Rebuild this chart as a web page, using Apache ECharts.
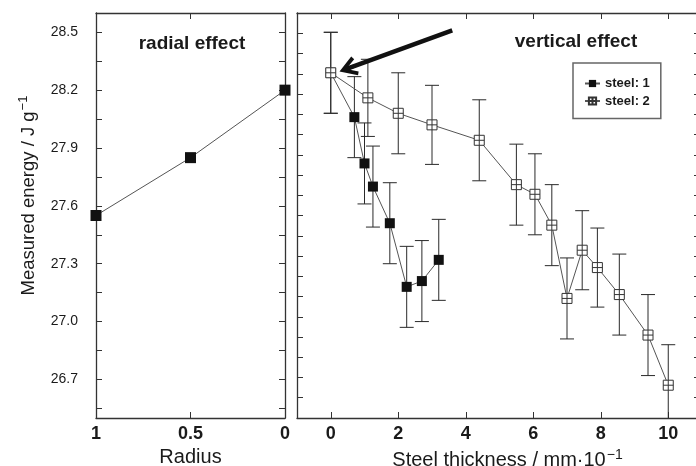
<!DOCTYPE html>
<html><head><meta charset="utf-8">
<script src="https://cdn.jsdelivr.net/npm/echarts@6/dist/echarts.min.js"></script>
<style>html,body{margin:0;padding:0;background:#fff}#c{width:696px;height:466px}</style>
</head><body><div id="c"></div>
<script>
// ---- data ----
const radiusX = [1, 0.5, 0];
const radialEnergy = [27.55, 27.85, 28.20];

const steel1X = [0, 0.7, 1.0, 1.25, 1.75, 2.25, 2.7, 3.2];
const steel1Y = [28.29, 28.06, 27.82, 27.70, 27.51, 27.18, 27.21, 27.32];
const steel1Err = [0.21, 0.21, 0.21, 0.21, 0.21, 0.21, 0.21, 0.21];

const steel2X = [0, 1.1, 2.0, 3.0, 4.4, 5.5, 6.05, 6.55, 7.0, 7.45, 7.9, 8.55, 9.4, 10.0];
const steel2Y = [28.29, 28.16, 28.08, 28.02, 27.94, 27.71, 27.66, 27.50, 27.12, 27.37, 27.28, 27.14, 26.93, 26.67];
const steel2Err = [0.21, 0.20, 0.21, 0.205, 0.21, 0.21, 0.21, 0.21, 0.21, 0.205, 0.205, 0.21, 0.21, 0.21];

const energyLabelValues = [26.7, 27.0, 27.3, 27.6, 27.9, 28.2, 28.5];
const energyTickValues = [26.55, 26.7, 26.85, 27.0, 27.15, 27.3, 27.45, 27.6, 27.75, 27.9, 28.05, 28.2, 28.35, 28.5];
const radiusTickValues = [1, 0.5, 0];
const thicknessTickValues = [0, 2, 4, 6, 8, 10];
const energyMin = 26.5, energyMax = 28.6;
const thicknessMin = -1, thicknessMax = 11;
// unlabeled ticks of the right panel: 20 equal divisions of the range
const rightPanelTicks = [];
for (let k = 1; k < 20; k++) rightPanelTicks.push(+(energyMin + k * (energyMax - energyMin) / 20).toFixed(4));

// arrow annotation (data coordinates): tail and head
const arrowTail = [3.6, 28.51];
const arrowHead = [0.51, 28.313];

// ---- styling ----
const FONT = "'Liberation Sans', Arial, sans-serif";
const AX = '#333';
const TXT = '#1a1a1a';

function frameAxis(extra) {
  return Object.assign({
    type: 'value',
    axisLine: { show: true, onZero: false, lineStyle: { color: AX, width: 1.3 } },
    axisTick: { show: true, inside: true, length: 6, lineStyle: { color: AX, width: 1 } },
    axisLabel: { show: false },
    splitLine: { show: false }
  }, extra);
}

const openSquare = 'path://M0,0 L10,0 L10,10 L0,10 Z M5,0 L5,10 M0,5 L10,5';
const arrowPath = 'path://M10,0 L20,17 L16.5,19 L10,7.5 L3.5,19 L0,17 Z M8.2,3 L11.8,3 L11.8,18 L8.2,18 Z';

function errorSeries(name, xs, ys, errs) {
  return {
    name: name, type: 'custom', xAxisIndex: 2, yAxisIndex: 2, z: 1, clip: true, silent: true,
    data: xs.map((x, i) => [x, ys[i] - errs[i], ys[i] + errs[i]]),
    encode: { x: 0, y: [1, 2] },
    renderItem: function (params, api) {
      const x = api.value(0);
      const lo = api.coord([x, api.value(1)]);
      const hi = api.coord([x, api.value(2)]);
      const hw = 7;
      const st = { stroke: '#2a2a2a', lineWidth: 1 };
      return {
        type: 'group', children: [
          { type: 'line', shape: { x1: lo[0], y1: lo[1], x2: hi[0], y2: hi[1] }, style: st },
          { type: 'line', shape: { x1: lo[0] - hw, y1: lo[1], x2: lo[0] + hw, y2: lo[1] }, style: st },
          { type: 'line', shape: { x1: hi[0] - hw, y1: hi[1], x2: hi[0] + hw, y2: hi[1] }, style: st }
        ]
      };
    }
  };
}

const chart = echarts.init(document.getElementById('c'), null, { renderer: 'canvas' });
chart.setOption({
  animation: false,
  backgroundColor: '#fff',
  textStyle: { fontFamily: FONT },
  grid: [
    { left: 96, top: 13, width: 189, height: 405, containLabel: false, outerBoundsMode: 'none' },
    { left: 297, top: 13, width: 405, height: 405, containLabel: false, outerBoundsMode: 'none' }
  ],
  xAxis: [
    frameAxis({
      gridIndex: 0, position: 'bottom', min: 0, max: 1, inverse: true,
      axisTick: { show: true, inside: true, length: 6, customValues: radiusTickValues, lineStyle: { color: AX } },
      axisLabel: { show: true, customValues: radiusTickValues, margin: 7, fontSize: 18, fontWeight: 'bold', color: TXT, fontFamily: FONT,
        formatter: v => String(v) },
      name: 'Radius', nameLocation: 'middle', nameGap: 28,
      nameTextStyle: { fontSize: 20, color: TXT, fontFamily: FONT, padding: [0, 0, 0, 0] }
    }),
    frameAxis({
      gridIndex: 0, position: 'top', min: 0, max: 1, inverse: true,
      axisTick: { show: true, inside: true, length: 6, customValues: radiusTickValues, lineStyle: { color: AX } }
    }),
    frameAxis({
      gridIndex: 1, position: 'bottom', min: thicknessMin, max: thicknessMax,
      axisTick: { show: true, inside: true, length: 6, customValues: thicknessTickValues, lineStyle: { color: AX } },
      axisLabel: { show: true, customValues: thicknessTickValues, margin: 7, fontSize: 18, fontWeight: 'bold', color: TXT, fontFamily: FONT },
      name: 'Steel thickness / mm·10{sup|−1}', nameLocation: 'middle', nameGap: 28,
      nameTextStyle: { fontSize: 20, color: TXT, fontFamily: FONT, padding: [0, 0, 0, 16],
        rich: { sup: { fontSize: 14, color: TXT, fontFamily: FONT, verticalAlign: 'top', padding: [0, 0, 12, 1] } } }
    }),
    frameAxis({
      gridIndex: 1, position: 'top', min: thicknessMin, max: thicknessMax,
      axisTick: { show: true, inside: true, length: 6, customValues: thicknessTickValues, lineStyle: { color: AX } }
    })
  ],
  yAxis: [
    frameAxis({
      gridIndex: 0, position: 'left', min: energyMin, max: energyMax,
      axisTick: { show: true, inside: true, length: 6, customValues: energyTickValues, lineStyle: { color: AX } },
      axisLabel: { show: true, customValues: energyLabelValues, margin: 18, fontSize: 14, color: TXT, fontFamily: FONT,
        formatter: v => v.toFixed(1) },
      name: 'Measured energy / J g{sup|−1}', nameLocation: 'middle', nameGap: 56, nameRotate: 90,
      nameTextStyle: { fontSize: 18.5, color: TXT, fontFamily: FONT, padding: [0, 0, 0, 40],
        rich: { sup: { fontSize: 13, color: TXT, fontFamily: FONT, verticalAlign: 'top', padding: [0, 0, 10, 1] } } }
    }),
    frameAxis({
      gridIndex: 0, position: 'right', min: energyMin, max: energyMax,
      axisTick: { show: true, inside: true, length: 6, customValues: energyTickValues, lineStyle: { color: AX } }
    }),
    frameAxis({
      gridIndex: 1, position: 'left', min: energyMin, max: energyMax,
      axisTick: { show: true, inside: true, length: 6, customValues: rightPanelTicks, lineStyle: { color: AX } }
    }),
    frameAxis({
      gridIndex: 1, position: 'right', min: energyMin, max: energyMax,
      axisTick: { show: true, inside: true, length: 8, customValues: rightPanelTicks, lineStyle: { color: AX } }
    })
  ],
  legend: {
    data: ['steel: 1', 'steel: 2'],
    orient: 'vertical', left: 573, top: 63,
    padding: [14, 11, 11, 11], itemGap: 4.5,
    itemWidth: 15, itemHeight: 9,
    borderColor: '#666', borderWidth: 1.5,
    selectedMode: false,
    textStyle: { fontSize: 13, fontWeight: 'bold', color: TXT, fontFamily: FONT }
  },
  graphic: [
    { type: 'text', x: 192, y: 44, silent: true,
      style: { text: 'radial effect', fill: TXT, font: "bold 19px " + FONT, textAlign: 'center', textVerticalAlign: 'middle' } },
    { type: 'text', x: 576, y: 42, silent: true,
      style: { text: 'vertical effect', fill: TXT, font: "bold 19px " + FONT, textAlign: 'center', textVerticalAlign: 'middle' } }
  ],
  series: [
    {
      name: 'radial', type: 'line', xAxisIndex: 0, yAxisIndex: 0,
      data: radiusX.map((x, i) => [x, radialEnergy[i]]),
      symbol: 'rect', symbolSize: 11, clip: false,
      itemStyle: { color: '#111' },
      lineStyle: { color: '#555', width: 1 }
    },
    errorSeries('err1', steel1X, steel1Y, steel1Err),
    errorSeries('err2', steel2X, steel2Y, steel2Err),
    {
      name: 'steel: 1', type: 'line', xAxisIndex: 2, yAxisIndex: 2, z: 3,
      data: steel1X.map((x, i) => [x, steel1Y[i]]),
      symbol: 'rect', symbolSize: 10,
      itemStyle: { color: '#111' },
      lineStyle: { color: '#555', width: 1 }
    },
    {
      name: 'steel: 2', type: 'line', xAxisIndex: 2, yAxisIndex: 2, z: 4,
      data: steel2X.map((x, i) => [x, steel2Y[i]]),
      symbol: openSquare, symbolSize: 10,
      itemStyle: { color: '#fff', borderColor: '#333', borderWidth: 1 },
      lineStyle: { color: '#555', width: 1 },
      markLine: {
        silent: true, animation: false,
        symbol: ['none', arrowPath], symbolSize: [20, 18],
        label: { show: false },
        emphasis: { disabled: true },
        lineStyle: { color: '#111', width: 4.5, type: 'solid' },
        data: [[{ coord: arrowTail }, { coord: arrowHead }]]
      }
    }
  ]
});
</script>
</body></html>
